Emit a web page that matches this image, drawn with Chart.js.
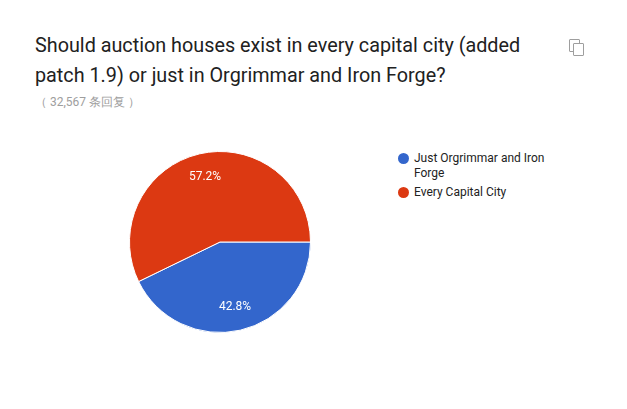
<!DOCTYPE html>
<html><head><meta charset="utf-8">
<script src="https://cdn.jsdelivr.net/npm/chart.js@4"></script>
<style>
body{margin:0;width:627px;height:409px;background:#fff;font-family:Roboto,Arial,sans-serif;position:relative;overflow:hidden}
#title{position:absolute;left:35px;top:31px;width:530px;font-size:19.8px;line-height:30px;color:#212121}
#sub{position:absolute;left:35px;top:94px;font-size:12px;color:#9e9e9e}
#wrap{position:absolute;left:119px;top:141px;width:202px;height:202px}
.leg{position:absolute;left:398px;font-size:12px;color:#222;line-height:15px}
.dot{position:absolute;left:0;top:2px;width:11px;height:11px;border-radius:50%}
.leg span{display:block;margin-left:16px;width:150px}
#copy{position:absolute;left:569px;top:39px;width:9px;height:11px;border:1.5px solid #9e9e9e;border-radius:1px}
#copy2{position:absolute;left:573px;top:43px;width:9px;height:11px;border:1.5px solid #9e9e9e;background:#fff;border-radius:1px}
</style></head><body>
<div id="title">Should auction houses exist in every capital city (added patch 1.9) or just in Orgrimmar and Iron Forge?</div>
<div id="sub">（ 32,567 条回复 ）</div>
<div id="copy"></div><div id="copy2"></div>
<div id="wrap"><canvas id="myChart"></canvas></div>
<div id="legend"></div>
<script>
const labels = ['Just Orgrimmar and Iron Forge', 'Every Capital City'];
const values = [42.8, 57.2];
const colors = ['#3366cc', '#dc3912'];

let legend = document.getElementById('legend');
let tops = [151, 185];
labels.forEach((l, i) => {
    legend.innerHTML += `<div class="leg" style="top:${tops[i]}px"><div class="dot" style="background:${colors[i]}"></div><span>${l}</span></div>`;
});

const pctLabels = {
    id: 'pctLabels',
    afterDatasetsDraw(chart) {
        const ctx = chart.ctx;
        chart.getDatasetMeta(0).data.forEach((arc, i) => {
            const mid = (arc.startAngle + arc.endAngle) / 2;
            const r = arc.outerRadius * 0.74;
            ctx.save();
            ctx.fillStyle = '#fff';
            ctx.font = '12px Roboto, Arial';
            ctx.textAlign = 'center';
            ctx.textBaseline = 'middle';
            ctx.fillText(values[i].toFixed(1) + '%', arc.x + Math.cos(mid) * r, arc.y + Math.sin(mid) * r);
            ctx.restore();
        });
    }
};

new Chart(document.getElementById('myChart'), {
    type: 'pie',
    data: { labels: labels, datasets: [{ data: values, backgroundColor: colors, borderColor: '#fff', borderWidth: 1 }] },
    options: {
        responsive: true, maintainAspectRatio: false, animation: false,
        rotation: 90,
        layout: { padding: 10 },
        plugins: { legend: { display: false }, tooltip: { enabled: false } }
    },
    plugins: [pctLabels]
});
</script>
</body></html>
